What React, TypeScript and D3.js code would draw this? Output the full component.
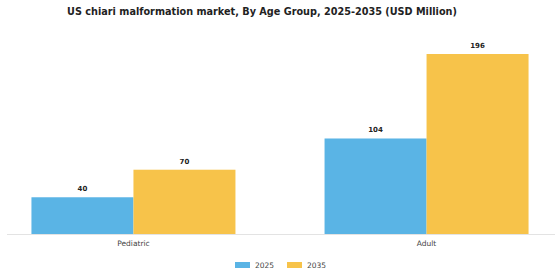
import React from "react";
import * as d3 from "d3";

const categories = ["Pediatric", "Adult"];
const seriesNames = ["2025", "2035"];
const values2025 = [40, 104];
const values2035 = [70, 196];
const colors = ["#5ab4e5", "#f7c34a"];

const W = 560;
const H = 280;
const baseline = 234;

export default function App() {
  const x0 = d3.scaleBand<string>().domain(categories).range([8, 552]).paddingInner(0.304).paddingOuter(0.08);
  const x1 = d3.scaleBand<string>().domain(seriesNames).range([0, x0.bandwidth()]).padding(0);
  const y = d3.scaleLinear().domain([0, 196]).range([baseline, 54]);
  const series = [values2025, values2035];

  return (
    <svg width={W} height={H} style={{ position: "absolute", left: 0, top: 0, fontFamily: "'DejaVu Sans', sans-serif" }}>
      <rect width={W} height={H} fill="#ffffff" />
      <text x={262} y={15} textAnchor="middle" fontSize={9.7} fontWeight="bold" fill="#222">
        US chiari malformation market, By Age Group, 2025-2035 (USD Million)
      </text>
      <line x1={7} x2={555} y1={baseline + 0.5} y2={baseline + 0.5} stroke="#e3e3e3" strokeWidth={1} />
      {categories.map((c, i) => (
        <g key={c}>
          {series.map((vals, s) => {
            const xx = (x0(c) ?? 0) + (x1(seriesNames[s]) ?? 0);
            const yy = y(vals[i]);
            return (
              <g key={s}>
                <rect x={xx} y={yy} width={x1.bandwidth()} height={baseline - yy} fill={colors[s]} />
                <text x={xx + x1.bandwidth() / 2} y={yy - 6} textAnchor="middle" fontSize={7} fontWeight="bold" fill="#222">
                  {vals[i]}
                </text>
              </g>
            );
          })}
          <text x={(x0(c) ?? 0) + x0.bandwidth() / 2} y={246} textAnchor="middle" fontSize={7.5} fill="#444">
            {c}
          </text>
        </g>
      ))}
      {seriesNames.map((s, i) => {
        const lx = 235 + i * 52;
        return (
          <g key={s}>
            <rect x={lx} y={262} width={15} height={6} fill={colors[i]} />
            <text x={lx + 20} y={268} fontSize={7.5} fill="#444">
              {s}
            </text>
          </g>
        );
      })}
    </svg>
  );
}
